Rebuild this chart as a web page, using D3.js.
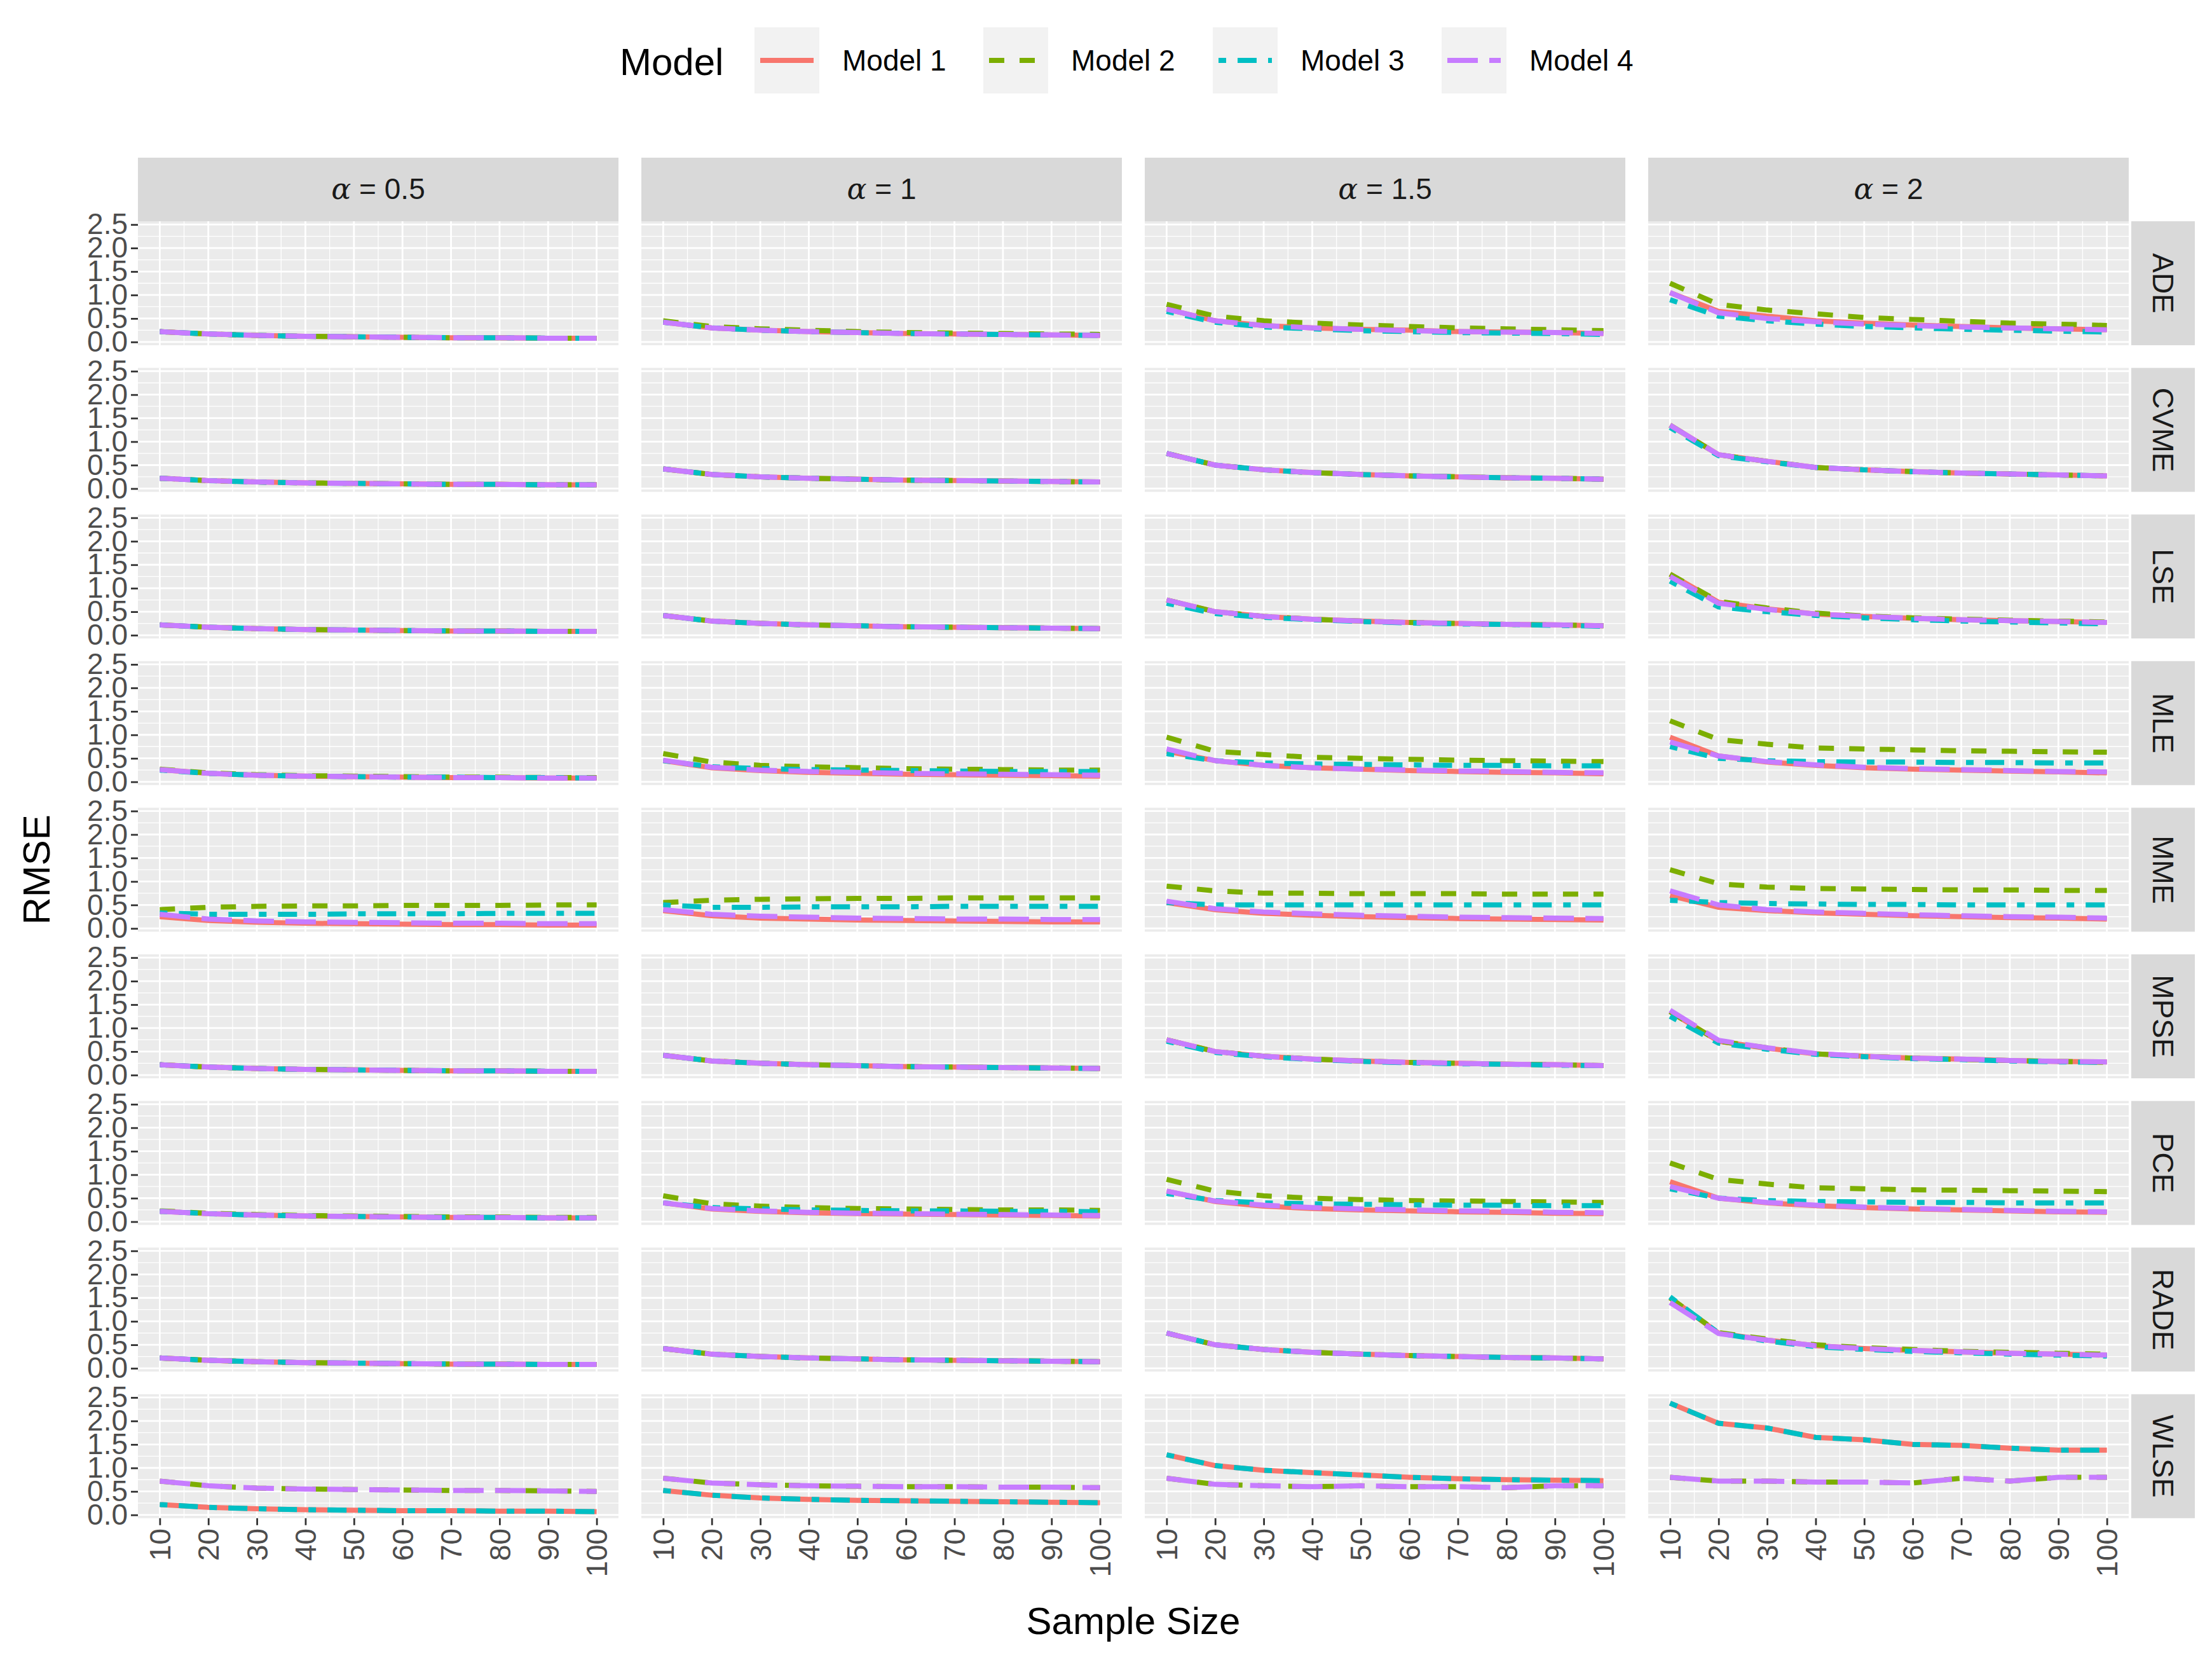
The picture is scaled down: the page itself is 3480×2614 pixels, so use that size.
<!DOCTYPE html>
<html><head><meta charset="utf-8">
<script src="https://cdn.jsdelivr.net/npm/d3@7"></script>
<style>body{margin:0;background:#fff}text{font-family:Arial,"Liberation Sans",sans-serif}</style>
</head><body>
<svg id="chart" width="3480" height="2614"></svg>
<script>
// RMSE by sample size, per estimator (rows) and alpha (columns)
const sampleSizes = [10, 20, 30, 40, 50, 60, 70, 80, 90, 100];
const alphas = ["0.5", "1", "1.5", "2"];
const methods = ["ADE", "CVME", "LSE", "MLE", "MME", "MPSE", "PCE", "RADE", "WLSE"];
const models = ["Model 1", "Model 2", "Model 3", "Model 4"];
const colors = ["#F8766D", "#7CAE00", "#00BFC4", "#C77CFF"];

// typical curves read off the panels where the four models overlap
const base05 = [0.22, 0.17, 0.14, 0.12, 0.11, 0.10, 0.09, 0.09, 0.08, 0.08];
const base1 = [0.42, 0.30, 0.25, 0.22, 0.20, 0.18, 0.17, 0.16, 0.15, 0.14];
const base15 = [0.75, 0.50, 0.40, 0.34, 0.30, 0.27, 0.25, 0.23, 0.22, 0.20];
const base2 = [1.35, 0.72, 0.58, 0.45, 0.40, 0.36, 0.33, 0.31, 0.29, 0.27];

// each method: [alpha][model] -> RMSE values
const ADE = [
  [base05, base05, base05, base05],
  [base1, [0.45, 0.33, 0.28, 0.25, 0.22, 0.20, 0.19, 0.18, 0.17, 0.16], base1, base1],
  [[0.70, 0.45, 0.35, 0.30, 0.27, 0.25, 0.22, 0.21, 0.20, 0.18], [0.80, 0.55, 0.45, 0.40, 0.36, 0.33, 0.30, 0.28, 0.26, 0.24],
   [0.65, 0.42, 0.32, 0.28, 0.24, 0.22, 0.20, 0.19, 0.18, 0.16], [0.70, 0.45, 0.35, 0.30, 0.27, 0.24, 0.22, 0.21, 0.20, 0.18]],
  [[1.05, 0.65, 0.55, 0.45, 0.40, 0.36, 0.33, 0.30, 0.28, 0.26], [1.25, 0.80, 0.68, 0.60, 0.52, 0.48, 0.44, 0.40, 0.38, 0.35],
   [0.90, 0.55, 0.45, 0.38, 0.33, 0.30, 0.27, 0.25, 0.23, 0.21], [1.05, 0.62, 0.50, 0.43, 0.38, 0.35, 0.32, 0.30, 0.28, 0.26]]
];
const CVME = [
  [base05, base05, base05, base05], [base1, base1, base1, base1],
  [base15, base15, base15, base15],
  [base2, base2, [1.30, 0.70, 0.57, 0.45, 0.40, 0.36, 0.33, 0.31, 0.29, 0.27], base2]
];
const LSE = [
  [base05, base05, base05, base05], [base1, base1, base1, base1],
  [base15, base15, [0.68, 0.46, 0.38, 0.33, 0.29, 0.26, 0.24, 0.23, 0.21, 0.19], base15],
  [[1.30, 0.70, 0.56, 0.45, 0.40, 0.36, 0.33, 0.31, 0.29, 0.27], [1.30, 0.72, 0.58, 0.47, 0.41, 0.37, 0.34, 0.32, 0.30, 0.28],
   [1.15, 0.60, 0.50, 0.42, 0.37, 0.33, 0.30, 0.28, 0.26, 0.24], [1.25, 0.68, 0.55, 0.45, 0.40, 0.36, 0.33, 0.31, 0.29, 0.27]]
];
const MLE = [
  [[0.26, 0.18, 0.14, 0.12, 0.11, 0.10, 0.09, 0.09, 0.08, 0.08], [0.27, 0.19, 0.15, 0.13, 0.12, 0.11, 0.10, 0.10, 0.09, 0.09],
   [0.25, 0.18, 0.14, 0.12, 0.11, 0.10, 0.10, 0.09, 0.09, 0.08], [0.26, 0.18, 0.14, 0.12, 0.11, 0.10, 0.09, 0.09, 0.08, 0.08]],
  [[0.45, 0.30, 0.24, 0.20, 0.18, 0.16, 0.15, 0.14, 0.13, 0.12], [0.60, 0.42, 0.35, 0.32, 0.30, 0.28, 0.27, 0.26, 0.25, 0.25],
   [0.45, 0.32, 0.28, 0.26, 0.25, 0.24, 0.23, 0.22, 0.22, 0.22], [0.46, 0.31, 0.25, 0.22, 0.20, 0.18, 0.17, 0.16, 0.15, 0.14]],
  [[0.65, 0.45, 0.35, 0.30, 0.27, 0.24, 0.22, 0.20, 0.19, 0.17], [0.95, 0.65, 0.58, 0.52, 0.50, 0.48, 0.46, 0.45, 0.44, 0.43],
   [0.60, 0.45, 0.40, 0.38, 0.37, 0.36, 0.35, 0.35, 0.34, 0.34], [0.70, 0.45, 0.35, 0.30, 0.27, 0.25, 0.23, 0.22, 0.20, 0.19]],
  [[0.95, 0.55, 0.42, 0.35, 0.30, 0.27, 0.25, 0.23, 0.21, 0.19], [1.30, 0.90, 0.80, 0.72, 0.70, 0.68, 0.66, 0.65, 0.64, 0.63],
   [0.75, 0.50, 0.45, 0.43, 0.42, 0.42, 0.41, 0.41, 0.40, 0.40], [0.85, 0.55, 0.43, 0.36, 0.31, 0.28, 0.26, 0.24, 0.22, 0.21]]
];
const MME = [
  [[0.25, 0.17, 0.13, 0.11, 0.10, 0.09, 0.08, 0.08, 0.07, 0.07], [0.40, 0.45, 0.47, 0.48, 0.48, 0.49, 0.49, 0.49, 0.50, 0.50],
   [0.33, 0.30, 0.30, 0.30, 0.31, 0.31, 0.31, 0.32, 0.32, 0.32], [0.30, 0.20, 0.16, 0.14, 0.13, 0.12, 0.11, 0.11, 0.10, 0.10]],
  [[0.38, 0.27, 0.22, 0.20, 0.18, 0.17, 0.16, 0.15, 0.14, 0.14], [0.55, 0.60, 0.62, 0.63, 0.64, 0.64, 0.65, 0.65, 0.65, 0.65],
   [0.50, 0.45, 0.45, 0.46, 0.46, 0.46, 0.47, 0.47, 0.47, 0.47], [0.40, 0.30, 0.26, 0.24, 0.22, 0.21, 0.20, 0.20, 0.19, 0.19]],
  [[0.55, 0.40, 0.32, 0.28, 0.25, 0.23, 0.21, 0.20, 0.19, 0.18], [0.90, 0.80, 0.75, 0.75, 0.74, 0.74, 0.74, 0.73, 0.73, 0.73],
   [0.55, 0.50, 0.50, 0.50, 0.50, 0.50, 0.50, 0.50, 0.50, 0.50], [0.58, 0.42, 0.35, 0.31, 0.28, 0.26, 0.24, 0.23, 0.22, 0.21]],
  [[0.70, 0.45, 0.38, 0.33, 0.30, 0.27, 0.25, 0.23, 0.22, 0.20], [1.25, 0.95, 0.88, 0.85, 0.84, 0.83, 0.82, 0.82, 0.81, 0.81],
   [0.60, 0.55, 0.53, 0.52, 0.51, 0.51, 0.50, 0.50, 0.50, 0.50], [0.80, 0.50, 0.40, 0.35, 0.32, 0.29, 0.27, 0.25, 0.24, 0.22]]
];
const MPSE = [
  [base05, base05, base05, base05], [base1, base1, base1, base1],
  [base15, base15, [0.72, 0.48, 0.39, 0.33, 0.29, 0.26, 0.24, 0.23, 0.21, 0.20], base15],
  [[1.35, 0.72, 0.57, 0.45, 0.40, 0.36, 0.34, 0.31, 0.29, 0.28], base2, [1.25, 0.68, 0.55, 0.44, 0.39, 0.35, 0.33, 0.30, 0.28, 0.27], [1.38, 0.74, 0.58, 0.46, 0.40, 0.36, 0.34, 0.31, 0.29, 0.28]]
];
const PCE = [
  [base05, [0.23, 0.18, 0.15, 0.13, 0.12, 0.11, 0.10, 0.10, 0.09, 0.09], base05, base05],
  [[0.40, 0.27, 0.22, 0.19, 0.17, 0.16, 0.15, 0.14, 0.13, 0.12], [0.55, 0.38, 0.33, 0.30, 0.28, 0.27, 0.26, 0.25, 0.25, 0.24],
   [0.40, 0.30, 0.27, 0.25, 0.24, 0.23, 0.23, 0.22, 0.22, 0.21], [0.40, 0.28, 0.23, 0.20, 0.18, 0.17, 0.16, 0.15, 0.14, 0.13]],
  [[0.65, 0.43, 0.33, 0.28, 0.25, 0.23, 0.21, 0.20, 0.18, 0.17], [0.90, 0.65, 0.55, 0.50, 0.47, 0.45, 0.44, 0.43, 0.42, 0.41],
   [0.60, 0.45, 0.40, 0.38, 0.37, 0.36, 0.35, 0.35, 0.34, 0.34], [0.65, 0.44, 0.35, 0.30, 0.27, 0.25, 0.23, 0.22, 0.20, 0.19]],
  [[0.85, 0.50, 0.40, 0.34, 0.30, 0.27, 0.25, 0.23, 0.21, 0.20], [1.25, 0.90, 0.80, 0.72, 0.70, 0.68, 0.67, 0.66, 0.65, 0.64],
   [0.70, 0.50, 0.45, 0.43, 0.42, 0.41, 0.41, 0.40, 0.40, 0.40], [0.75, 0.50, 0.41, 0.35, 0.31, 0.28, 0.26, 0.24, 0.22, 0.21]]
];
const RADE = [
  [base05, base05, base05, base05], [base1, base1, base1, base1],
  [base15, base15, base15, base15],
  [[1.50, 0.75, 0.60, 0.48, 0.42, 0.38, 0.35, 0.32, 0.30, 0.28], [1.50, 0.76, 0.62, 0.50, 0.44, 0.40, 0.36, 0.34, 0.32, 0.30],
   [1.52, 0.75, 0.58, 0.46, 0.40, 0.36, 0.33, 0.30, 0.28, 0.26], [1.40, 0.74, 0.60, 0.48, 0.42, 0.38, 0.35, 0.32, 0.30, 0.28]]
];
const wlseLow05 = [0.22, 0.16, 0.13, 0.11, 0.10, 0.09, 0.09, 0.08, 0.08, 0.07];
const wlseHigh05 = [0.72, 0.62, 0.57, 0.55, 0.54, 0.53, 0.52, 0.52, 0.51, 0.50];
const wlseLow1 = [0.52, 0.42, 0.36, 0.33, 0.31, 0.30, 0.29, 0.28, 0.27, 0.26];
const wlseHigh1 = [0.78, 0.68, 0.64, 0.62, 0.61, 0.60, 0.60, 0.59, 0.59, 0.58];
const wlseLow15 = [1.28, 1.05, 0.95, 0.90, 0.85, 0.80, 0.77, 0.75, 0.74, 0.73];
const wlseHigh15 = [0.78, 0.65, 0.62, 0.60, 0.62, 0.60, 0.60, 0.58, 0.62, 0.62];
const wlseLow2 = [2.38, 1.95, 1.85, 1.65, 1.60, 1.50, 1.48, 1.42, 1.38, 1.38];
const wlseHigh2 = [0.80, 0.72, 0.72, 0.70, 0.70, 0.68, 0.78, 0.72, 0.80, 0.80];
const WLSE = [
  [wlseLow05, wlseHigh05, wlseLow05, wlseHigh05],
  [wlseLow1, wlseHigh1, wlseLow1, wlseHigh1],
  [wlseLow15, wlseHigh15, wlseLow15, wlseHigh15],
  [wlseLow2, wlseHigh2, wlseLow2, wlseHigh2]
];
const series = { ADE, CVME, LSE, MLE, MME, MPSE, PCE, RADE, WLSE };
const yTicks = [0, 0.5, 1, 1.5, 2, 2.5];

const lw = 8;
const u = lw * 0.75;
const dashes = [null, `${4 * u} ${4 * u}`, `${2 * u} ${3 * u} ${5 * u} ${3 * u}`, `${8 * u} ${3 * u}`];

const svg = d3.select("#chart");
const left = 217, colStep = 792, panelW = 756;
const top0 = 348, rowStep = 230.6, panelH = 195, stripH = 100;

const x = d3.scaleLinear().domain([5.5, 104.5]).range([0, panelW]);
const y = d3.scaleLinear().domain([-0.07, 2.57]).range([panelH, 0]);
const line = d3.line().x((d, i) => x(sampleSizes[i])).y(d => y(d));

const xMinor = d3.range(15, 100, 10), yMinor = [0.25, 0.75, 1.25, 1.75, 2.25];

// column strips
alphas.forEach((a, c) => {
  const g = svg.append("g").attr("transform", `translate(${left + c * colStep},${top0 - stripH})`);
  g.append("rect").attr("width", panelW).attr("height", stripH).attr("fill", "#D9D9D9");
  const t = g.append("text").attr("x", panelW / 2).attr("y", stripH / 2 + 15)
    .attr("text-anchor", "middle").attr("font-size", 46).attr("fill", "#1A1A1A");
  t.append("tspan").attr("font-family", "DejaVu Serif").attr("font-style", "italic").text("α");
  t.append("tspan").text(" = " + a);
});

methods.forEach((m, r) => {
  const py = top0 + r * rowStep;
  // row strip
  const sg = svg.append("g").attr("transform", `translate(${left + 3 * colStep + panelW + 4},${py})`);
  sg.append("rect").attr("width", stripH).attr("height", panelH).attr("fill", "#D9D9D9");
  sg.append("text").attr("transform", `translate(${stripH / 2 - 16},${panelH / 2}) rotate(90)`)
    .attr("text-anchor", "middle").attr("font-size", 46).attr("fill", "#1A1A1A").text(m);

  alphas.forEach((a, c) => {
    const g = svg.append("g").attr("transform", `translate(${left + c * colStep},${py})`);
    g.append("rect").attr("width", panelW).attr("height", panelH).attr("fill", "#EBEBEB");
    g.selectAll(".mnx").data(xMinor).join("line").attr("x1", x).attr("x2", x).attr("y1", 0).attr("y2", panelH)
      .attr("stroke", "#fff").attr("stroke-width", 1.3);
    g.selectAll(".mny").data(yMinor).join("line").attr("y1", y).attr("y2", y).attr("x1", 0).attr("x2", panelW)
      .attr("stroke", "#fff").attr("stroke-width", 1.3);
    g.selectAll(".mjx").data(sampleSizes).join("line").attr("x1", x).attr("x2", x).attr("y1", 0).attr("y2", panelH)
      .attr("stroke", "#fff").attr("stroke-width", 2.8);
    g.selectAll(".mjy").data(yTicks).join("line").attr("y1", y).attr("y2", y).attr("x1", 0).attr("x2", panelW)
      .attr("stroke", "#fff").attr("stroke-width", 2.8);

    series[m][c].forEach((vals, k) => {
      g.append("path").attr("d", line(vals)).attr("fill", "none")
        .attr("stroke", colors[k]).attr("stroke-width", lw)
        .attr("stroke-dasharray", dashes[k]);
    });

    if (c === 0) {
      const ya = g.append("g").call(d3.axisLeft(y).tickValues(yTicks).tickFormat(d3.format(".1f")).tickSize(11).tickPadding(5));
      ya.select(".domain").remove();
      ya.selectAll("line").attr("stroke", "#333").attr("stroke-width", 2.8);
      ya.selectAll("text").attr("font-size", 46).attr("fill", "#4D4D4D").attr("font-family", "Arial, Liberation Sans, sans-serif");
    }
    if (r === methods.length - 1) {
      const xa = g.append("g").attr("transform", `translate(0,${panelH})`)
        .call(d3.axisBottom(x).tickValues(sampleSizes).tickSize(11).tickPadding(5));
      xa.select(".domain").remove();
      xa.selectAll("line").attr("stroke", "#333").attr("stroke-width", 2.8);
      xa.selectAll("text").attr("font-size", 46).attr("fill", "#4D4D4D").attr("font-family", "Arial, Liberation Sans, sans-serif")
        .attr("text-anchor", "end").attr("dy", "0.35em")
        .attr("transform", "translate(0,16) rotate(-90)").attr("x", 0).attr("y", 0);
    }
  });
});

// axis titles
svg.append("text").attr("x", left + (3 * colStep + panelW) / 2).attr("y", 2570).attr("text-anchor", "middle")
  .attr("font-size", 60).attr("fill", "#000").text("Sample Size");
svg.append("text").attr("transform", `translate(78,${top0 + (8 * rowStep + panelH) / 2}) rotate(-90)`)
  .attr("text-anchor", "middle").attr("font-size", 60).attr("fill", "#000").text("RMSE");

// legend
const lg = svg.append("g");
lg.append("text").attr("x", 975).attr("y", 118).attr("font-size", 60).attr("fill", "#000").text("Model");
const keyX = [1187, 1547, 1908, 2268];
models.forEach((mn, k) => {
  lg.append("rect").attr("x", keyX[k]).attr("y", 43).attr("width", 102).attr("height", 104).attr("fill", "#F2F2F2");
  lg.append("line").attr("x1", keyX[k] + 9).attr("x2", keyX[k] + 93).attr("y1", 95).attr("y2", 95)
    .attr("stroke", colors[k]).attr("stroke-width", lw).attr("stroke-dasharray", dashes[k]);
  lg.append("text").attr("x", keyX[k] + 138).attr("y", 111).attr("font-size", 46).attr("fill", "#000").text(mn);
});
</script>
</body></html>
